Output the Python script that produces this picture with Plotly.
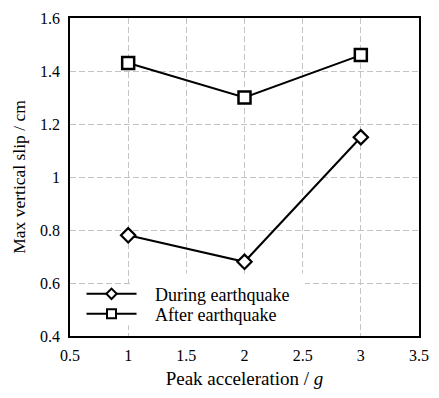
import plotly.graph_objects as go

x_vals = [1, 2, 3]
during = [0.78, 0.68, 1.15]
after = [1.43, 1.30, 1.46]
series_names = ["During earthquake", "After earthquake"]
x_ticks = [0.5, 1, 1.5, 2, 2.5, 3, 3.5]
x_labels = ["0.5", "1", "1.5", "2", "2.5", "3", "3.5"]
y_ticks = [0.4, 0.6, 0.8, 1.0, 1.2, 1.4, 1.6]
y_labels = ["0.4", "0.6", "0.8", "1", "1.2", "1.4", "1.6"]

font = "Times New Roman"
nb = "\u00a0"

fig = go.Figure()

# white legend backdrop covering gridlines (between gridlines and traces)
fig.add_shape(type="rect", xref="x", yref="y", x0=1.03, x1=2.52, y0=0.4, y1=0.636,
              fillcolor="white", line=dict(width=0), layer="between")
fig.add_shape(type="rect", xref="x", yref="y", x0=0.95, x1=1.05, y0=0.44, y1=0.596,
              fillcolor="white", line=dict(width=0), layer="between")

fig.add_trace(go.Scatter(
    x=x_vals, y=during, name=series_names[0], mode="lines+markers", showlegend=False,
    line=dict(color="black", width=2),
    marker=dict(symbol="diamond", size=11, color="white", line=dict(color="black", width=2.2)),
))
fig.add_trace(go.Scatter(
    x=x_vals, y=after, name=series_names[1], mode="lines+markers", showlegend=False,
    line=dict(color="black", width=2),
    marker=dict(symbol="square", size=12, color="white", line=dict(color="black", width=2.5)),
))
# legend entries (smaller markers, like the reference)
fig.add_trace(go.Scatter(
    x=[None], y=[None], name=nb * 3 + series_names[0], mode="lines+markers", legend="legend",
    line=dict(color="black", width=2),
    marker=dict(symbol="diamond", size=8, color="white", line=dict(color="black", width=2)),
))
fig.add_trace(go.Scatter(
    x=[None], y=[None], name=nb * 3 + series_names[1], mode="lines+markers", legend="legend2",
    line=dict(color="black", width=2),
    marker=dict(symbol="square", size=9, color="white", line=dict(color="black", width=2)),
))

axis_common = dict(
    showline=True, linecolor="black", linewidth=1.5, mirror=True,
    showgrid=True, gridcolor="#c4c4c4", griddash="6px,3px", gridwidth=1,
    zeroline=False, ticks="", tickfont=dict(family=font, size=16, color="black"),
)

fig.update_xaxes(range=[0.5, 3.5], tickvals=x_ticks, ticktext=x_labels, ticklabelstandoff=4,
                 title=dict(text="Peak acceleration / <i>g</i>", font=dict(family=font, size=19, color="black"), standoff=9),
                 **axis_common)
fig.update_yaxes(range=[0.4, 1.6], tickvals=y_ticks, ticktext=y_labels, ticklabelstandoff=5,
                 title=dict(text="Max vertical slip / cm", font=dict(family=font, size=17.5, color="black"), standoff=10),
                 **axis_common)

leg_common = dict(xanchor="left", yanchor="top", bgcolor="rgba(0,0,0,0)",
                  font=dict(family=font, size=18, color="black"), itemwidth=50)
fig.update_layout(
    width=439, height=398,
    margin=dict(l=70, r=11, t=10, b=62),
    plot_bgcolor="white", paper_bgcolor="white",
    font=dict(family=font, size=16, color="black"),
    legend=dict(x=0.033, y=0.19, **leg_common),
    legend2=dict(x=0.033, y=0.127, **leg_common),
    showlegend=True,
)

fig.write_html("out.html")
